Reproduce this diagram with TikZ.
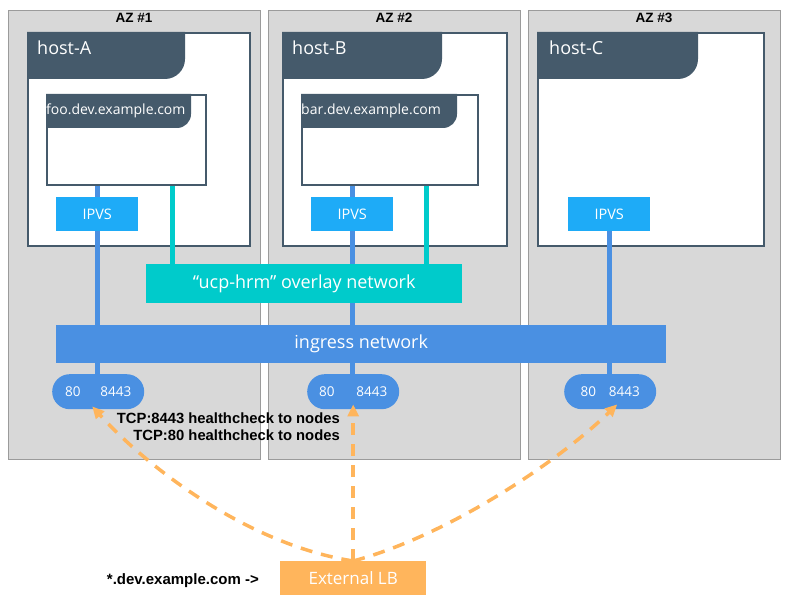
\documentclass[tikz,border=0pt]{standalone}
\usepackage{fontspec}
\setmainfont{Open Sans}
\newfontfamily\azfont{Liberation Sans}
\usetikzlibrary{arrows.meta,positioning,calc}

\pgfdeclarelayer{zones}
\pgfdeclarelayer{wires}
\pgfsetlayers{zones,wires,main}

\definecolor{zonegray}{HTML}{D8D8D8}
\definecolor{zoneline}{HTML}{9B9B9B}
\definecolor{hostdark}{HTML}{455A6B}
\definecolor{ipvsblue}{HTML}{1EABF7}
\definecolor{ingressblue}{HTML}{4A90E2}
\definecolor{overlaycyan}{HTML}{00CBCB}
\definecolor{lborange}{HTML}{FFB55C}

\tikzset{
  zone/.style={draw=zoneline, fill=zonegray, line width=1.2pt, anchor=north west,
    minimum width=252pt, minimum height=449pt, inner sep=0pt},
  zonetitle/.style={font=\azfont\bfseries\fontsize{13.5}{16}\selectfont, anchor=base, inner sep=0pt},
  hostbox/.style={draw=hostdark, fill=white, line width=2pt, anchor=north west,
    minimum height=213pt, inner sep=0pt},
  hosttitle/.style={text=white, anchor=base west, inner sep=0pt, font=\fontsize{18}{21}\selectfont},
  ctrbox/.style={draw=hostdark, fill=white, line width=2pt, anchor=north west,
    minimum height=90pt, inner sep=0pt},
  ctrtitle/.style={text=white, anchor=base west, inner sep=0pt, font=\fontsize{14}{16}\selectfont},
  ipvsbox/.style={fill=ipvsblue, text=white, anchor=north west, inner sep=0pt,
    minimum width=82pt, minimum height=34pt, font=\fontsize{14.5}{17}\selectfont},
  netbar/.style={text=white, anchor=north west, inner sep=0pt, font=\fontsize{18}{21}\selectfont},
  portpill/.style={fill=ingressblue, text=white, rounded corners=17.5pt, anchor=north west,
    inner sep=0pt, minimum width=92pt, minimum height=35pt, font=\fontsize{13.5}{16}\selectfont},
  ingresswire/.style={ingressblue, line width=5pt},
  overlaywire/.style={overlaycyan, line width=5pt},
  checkpath/.style={lborange, line width=3.5pt, dash pattern=on 12pt off 9pt,
    -{Triangle[length=12pt,width=11pt]}},
  note/.style={font=\azfont\bfseries\fontsize{14.8}{17}\selectfont, inner sep=0pt}
}

\begin{document}
\begin{tikzpicture}[x=1pt, y=-1pt]
\useasboundingbox (0,0) rectangle (792,609);

\begin{pgfonlayer}{zones}
% availability zones
\node[zone] (az1) at (8,10) {};
\node[zone] (az2) at (268,10) {};
\node[zone] (az3) at (528,10) {};
\node[zonetitle] (az1title) at (134,22.3) {AZ \#1};
\node[zonetitle] (az2title) at (394,22.3) {AZ \#2};
\node[zonetitle] (az3title) at (654,22.3) {AZ \#3};

% hosts
\node[hostbox, minimum width=222pt] (hostA) at (27,32) {};
\node[hostbox, minimum width=224pt] (hostB) at (282,32) {};
\node[hostbox, minimum width=226pt] (hostC) at (537,32) {};
\fill[hostdark] (hostA.north west) -- ++(158,0) -- ++(0,27) [rounded corners=20pt] -- ++(0,20) [sharp corners] -- ++(-158,0) -- cycle;
\fill[hostdark] (hostB.north west) -- ++(160,0) -- ++(0,27) [rounded corners=20pt] -- ++(0,20) [sharp corners] -- ++(-160,0) -- cycle;
\fill[hostdark] (hostC.north west) -- ++(161,0) -- ++(0,27) [rounded corners=20pt] -- ++(0,20) [sharp corners] -- ++(-161,0) -- cycle;
\node[hosttitle] (hostAtitle) at (37,55) {host-A};
\node[hosttitle] (hostBtitle) at (292,55) {host-B};
\node[hosttitle] (hostCtitle) at (549,55) {host-C};

% containers
\node[ctrbox, minimum width=159pt] (foo) at (46,94) {};
\node[ctrbox, minimum width=176pt] (bar) at (301,94) {};
\fill[hostdark] (foo.north west) -- ++(145,0) -- ++(0,19) [rounded corners=14pt] -- ++(0,15) [sharp corners] -- ++(-145,0) -- cycle;
\fill[hostdark] (bar.north west) -- ++(156,0) -- ++(0,19) [rounded corners=14pt] -- ++(0,15) [sharp corners] -- ++(-156,0) -- cycle;
\node[ctrtitle] (footitle) at (46,115) {foo.dev.example.com};
\node[ctrtitle] (bartitle) at (301,115) {bar.dev.example.com};
\end{pgfonlayer}

% ipvs and networks
\node[ipvsbox] (ipvsA) at (56,197) {IPVS};
\node[ipvsbox] (ipvsB) at (311,197) {IPVS};
\node[ipvsbox] (ipvsC) at (568,197) {IPVS};
\node[netbar, fill=overlaycyan, minimum width=316pt, minimum height=39pt] (overlay) at (146,264) {“ucp-hrm” overlay network};
\node[netbar, fill=ingressblue, minimum width=610pt, minimum height=38pt] (ingress) at (56,325) {ingress network};

% published ports
\node[portpill] (pillA) at (52,374) {80\hspace{20pt}8443};
\node[portpill] (pillB) at (307,374) {80\hspace{22pt}8443};
\node[portpill] (pillC) at (564,374) {80\hspace{13pt}8443};

\coordinate (tapA) at (172,0);
\coordinate (tapB) at (426,0);

\begin{pgfonlayer}{wires}
\draw[ingresswire] (ipvsA |- foo.south) -- (ipvsA |- pillA.north);
\draw[ingresswire] (ipvsB |- bar.south) -- (ipvsB |- pillB.north);
\draw[ingresswire] (ipvsC.south) -- (ipvsC |- pillC.north);
\draw[overlaywire] (foo.south -| tapA) -- (overlay.north -| tapA);
\draw[overlaywire] (bar.south -| tapB) -- (overlay.north -| tapB);
\end{pgfonlayer}

% load balancer
\node[fill=lborange, text=white, anchor=north west, inner sep=0pt, minimum width=146pt, minimum height=34pt,
  font=\fontsize{17}{20}\selectfont] (lb) at (280,561) {External LB};
\node[note, font=\azfont\bfseries\fontsize{15}{18}\selectfont, anchor=base east] (dnsnote) at (259,584) {*.dev.example.com ->};
\node[note, anchor=base east] (check8443) at (340,423) {TCP:8443 healthcheck to nodes};
\node[note, anchor=base east] (check80) at (340,440) {TCP:80 healthcheck to nodes};

\draw[checkpath] (lb.north) .. controls (250,545) and (150,470) .. ($(pillA.south)+(-6,-3)$);
\draw[checkpath] (lb.north) -- ($(pillB.south)+(0,-5)$);
\draw[checkpath] (lb.north) .. controls (450,535) and (560,460) .. ($(pillC.south)+(7,-5)$);
\end{tikzpicture}
\end{document}
